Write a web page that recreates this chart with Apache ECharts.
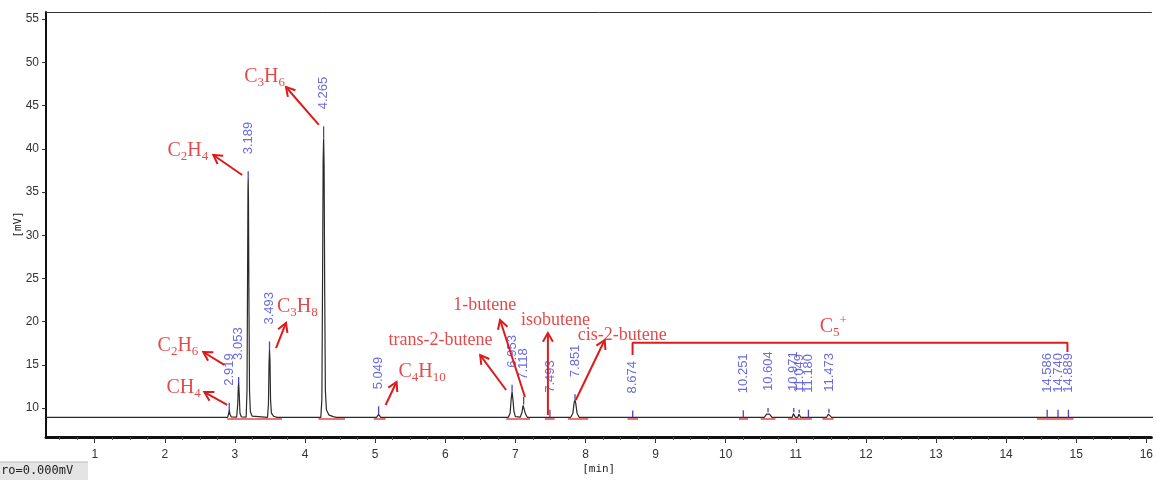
<!DOCTYPE html>
<html><head><meta charset="utf-8">
<script src="https://cdn.jsdelivr.net/npm/echarts@6/dist/echarts.min.js"></script>
<style>html,body{margin:0;padding:0;background:#fff}#c{width:1156px;height:480px}</style>
</head><body><div id="c"></div>
<script>
// ---------- data ----------
const BASE = 8.92;
const trace = [
 [0.30, 8.92],
 [2.895, 8.92],[2.910, 9.30],[2.919, 9.77],[2.928, 9.30],[2.945, 8.98],
 [3.025, 8.95],[3.040, 10.5],[3.048, 12.4],[3.053, 12.9],[3.060, 11.8],[3.072, 9.4],[3.090, 8.98],
 [3.160, 8.95],[3.172, 12.0],[3.180, 25.0],[3.186, 35.5],[3.189, 36.5],[3.193, 34.0],[3.200, 22.0],[3.208, 12.0],[3.220, 9.6],[3.245, 9.05],[3.270, 8.92],
 [3.465, 8.92],[3.478, 10.5],[3.486, 15.0],[3.493, 16.7],[3.500, 15.5],[3.508, 11.0],[3.520, 9.4],[3.550, 9.05],[3.600, 8.92],
 [4.225, 8.92],[4.240, 11.0],[4.250, 25.0],[4.258, 38.5],[4.265, 41.2],[4.272, 38.0],[4.280, 24.0],[4.290, 12.0],[4.305, 9.8],[4.340, 9.2],[4.400, 9.0],[4.450, 8.92],
 [5.020, 8.92],[5.040, 9.15],[5.049, 9.27],[5.060, 9.10],[5.080, 8.92],
 [6.900, 8.92],[6.925, 9.4],[6.940, 11.0],[6.953, 11.9],[6.965, 11.0],[6.980, 9.6],[7.000, 9.0],
 [7.070, 8.95],[7.095, 9.5],[7.110, 10.3],[7.118, 10.4],[7.128, 10.1],[7.145, 9.3],[7.170, 8.92],
 [7.790, 8.92],[7.820, 9.4],[7.838, 10.6],[7.851, 10.9],[7.862, 10.5],[7.880, 9.4],[7.910, 8.92],
 [10.550, 8.92],[10.585, 9.3],[10.604, 9.5],[10.625, 9.3],[10.660, 8.92],
 [10.950, 8.92],[10.965, 9.35],[10.971, 9.5],[10.980, 9.2],[10.995, 8.92],
 [11.030, 8.92],[11.043, 9.3],[11.049, 9.45],[11.058, 9.2],[11.070, 8.92],
 [11.440, 8.92],[11.465, 9.3],[11.473, 9.45],[11.485, 9.25],[11.510, 8.92],
 [16.10, 8.92]
];
const rtLabels = ['2.919','3.053','3.189','3.493','4.265','5.049','6.953','7.118','7.493','7.851','8.674','10.251','10.604','10.971','11.049','11.180','11.473','14.586','14.740','14.889'];
const rtTimes  = [2.919,3.053,3.189,3.493,4.265,5.049,6.953,7.118,7.493,7.851,8.674,10.251,10.604,10.971,11.049,11.180,11.473,14.586,14.740,14.889];
const markerLow  = [9.77,12.9,36.5,16.7,41.2,9.27,11.9,10.4,8.92,10.9,8.92,8.92,9.5,9.5,9.45,8.92,9.45,8.92,8.92,8.92];
const markerHigh = [10.6,13.6,37.4,17.7,42.6,10.2,12.7,11.3,9.8,11.6,9.7,9.75,10.0,10.0,9.8,9.8,9.9,9.8,9.8,9.8];
const integStart = [2.89,3.28,4.19,4.98,6.87,7.04,7.42,7.75,8.60,10.19,10.50,10.89,11.38,14.44];
const integEnd   = [3.28,3.67,4.57,5.15,7.04,7.21,7.56,8.04,8.75,10.32,10.71,11.23,11.54,14.96];
const xTickLabels = [1,2,3,4,5,6,7,8,9,10,11,12,13,14,15,16];
const yTickLabels = [10,15,20,25,30,35,40,45,50,55];
// annotations (data coordinates)
const arrowTail = [[2.890,10.35],[2.848,14.98],[3.103,36.97],[4.197,42.76],[3.586,16.94],[5.149,10.35],[6.868,12.08],[7.137,11.27],[7.464,9.19],[7.862,10.93]];
const arrowHead = [[2.564,11.85],[2.549,16.48],[2.691,39.28],[3.728,47.15],[3.728,19.84],[5.305,13.01],[6.498,16.13],[6.782,20.19],[7.464,18.68],[8.274,17.87]];
const annotText = ['{m|CH}{s|4}','{m|C}{s|2}{m|H}{s|6}','{m|C}{s|2}{m|H}{s|4}','{m|C}{s|3}{m|H}{s|6}','{m|C}{s|3}{m|H}{s|8}','{m|C}{s|4}{m|H}{s|10}','{n|trans-2-butene}','{n|1-butene}','{n|isobutene}','{n|cis-2-butene}','{m|C}{s|5}{p|+}'];
const annotPos = [[2.024,12.32],[1.896,17.18],[2.038,39.75],[3.132,48.31],[3.600,21.69],[5.333,14.17],[5.191,17.87],[6.115,21.92],[7.081,20.19],[7.890,18.45],[11.342,19.38]];
const bracketC5 = [[8.672,16.13],[8.672,17.56],[14.875,17.56],[14.875,16.48]];

// ---------- chart ----------
const RED = '#dc1c1c', BLUE = '#4343dc';
const X_MIN = 0.305, X_MAX = 16.072, Y_MIN = 6.644, Y_MAX = 55.83;
const xMinor = [];
for (let v = 0.5; v < 16.05; v += 0.25) { if (Math.abs(v - Math.round(v)) > 1e-6) xMinor.push(+v.toFixed(2)); }

const chart = echarts.init(document.getElementById('c'), null, {renderer:'canvas'});
const axisFont = 'Liberation Sans';
chart.setOption({
  animation: false,
  backgroundColor: '#fff',
  grid: {left: 46, right: 0, top: 12, bottom: 43},
  xAxis: [
    {type:'value', min:X_MIN, max:X_MAX, position:'bottom',
     axisLine:{show:true, onZero:false, lineStyle:{color:'#111', width:3}},
     axisTick:{show:true, length:6, customValues:xTickLabels, lineStyle:{color:'#333'}},
     axisLabel:{customValues:xTickLabels, color:'#333', fontSize:12, margin:12, fontFamily:axisFont},
     splitLine:{show:false},
     name:'[min]', nameLocation:'middle', nameGap:27, nameMoveOverlap:false,
     nameTextStyle:{fontFamily:'DejaVu Sans Mono', fontSize:11, color:'#222'}},
    {type:'value', min:X_MIN, max:X_MAX, position:'bottom',
     axisLine:{show:false, onZero:false},
     axisTick:{show:true, length:3, customValues:xMinor, lineStyle:{color:'#555'}},
     axisLabel:{show:false}, splitLine:{show:false}},
    {type:'value', min:X_MIN, max:X_MAX, position:'top',
     axisLine:{show:true, onZero:false, lineStyle:{color:'#333', width:1}},
     axisTick:{show:false}, axisLabel:{show:false}, splitLine:{show:false}}
  ],
  yAxis: {type:'value', min:Y_MIN, max:Y_MAX,
     axisLine:{show:true, onZero:false, lineStyle:{color:'#111', width:2}},
     axisTick:{show:true, length:4, customValues:yTickLabels, lineStyle:{color:'#333'}},
     axisLabel:{customValues:yTickLabels, color:'#333', fontSize:12, margin:7, fontFamily:axisFont},
     splitLine:{show:false},
     name:'[mV]', nameLocation:'middle', nameGap:22, nameRotate:90, nameMoveOverlap:false,
     nameTextStyle:{fontFamily:'DejaVu Sans Mono', fontSize:11, color:'#222'}},
  series: [
    {type:'lines', coordinateSystem:'cartesian2d', z:1, silent:true,
     lineStyle:{color:RED, width:1.6, opacity:0.8},
     data: integStart.map((s,i)=>({coords:[[s, BASE-0.14],[integEnd[i], BASE-0.14]]}))},
    {type:'line', data:trace, showSymbol:false, symbol:'none', z:2, silent:true,
     lineStyle:{color:'#2a2a2a', width:1.2}},
    {type:'custom', z:3, silent:true, clip:false,
     data: rtTimes.map((t,i)=>[t, markerLow[i], markerHigh[i]]),
     encode:{x:0, y:[1,2]},
     renderItem(params, api){
       const a = api.coord([api.value(0), api.value(1)]);
       const b = api.coord([api.value(0), api.value(2)]);
       return {type:'line', shape:{x1:a[0], y1:a[1], x2:b[0], y2:b[1]}, style:{stroke:BLUE, lineWidth:1.3}};
     }},
    {type:'scatter', symbolSize:0, z:4, silent:true, clip:false,
     data: rtTimes.map((t,i)=>[t, markerHigh[i]]),
     label:{show:true, position:'top', distance:17, rotate:90, align:'left', verticalAlign:'middle',
            formatter:p=>rtLabels[p.dataIndex], color:BLUE, fontSize:13, fontFamily:axisFont}},
    {type:'custom', z:5, silent:true, clip:false,
     data: arrowTail.map((p,i)=>[p[0], p[1], arrowHead[i][0], arrowHead[i][1]]),
     encode:{x:[0,2], y:[1,3]},
     renderItem(params, api){
       const p0 = api.coord([api.value(0), api.value(1)]);
       const p1 = api.coord([api.value(2), api.value(3)]);
       const ang = Math.atan2(p1[1]-p0[1], p1[0]-p0[0]);
       const L = 10, w = Math.PI/6;
       const h1 = [p1[0]-L*Math.cos(ang-w), p1[1]-L*Math.sin(ang-w)];
       const h2 = [p1[0]-L*Math.cos(ang+w), p1[1]-L*Math.sin(ang+w)];
       return {type:'group', children:[
         {type:'line', shape:{x1:p0[0], y1:p0[1], x2:p1[0], y2:p1[1]}, style:{stroke:RED, lineWidth:2}},
         {type:'polyline', shape:{points:[h1, p1, h2]}, style:{stroke:RED, lineWidth:2, fill:null}}
       ]};
     }},
    {type:'line', data:bracketC5, symbol:'none', z:5, silent:true,
     lineStyle:{color:RED, width:2}},
    {type:'scatter', symbolSize:0, z:6, silent:true, clip:false,
     data: annotPos.map((p,i)=>({value:p, name:annotText[i]})),
     label:{show:true, position:'right', distance:0, align:'left', verticalAlign:'middle',
       formatter:'{b}',
       rich:{
         m:{fontFamily:'Liberation Serif', fontSize:20, color:RED, lineHeight:24},
         s:{fontFamily:'Liberation Serif', fontSize:13, color:RED, padding:[12,0,0,0]},
         p:{fontFamily:'Liberation Serif', fontSize:13, color:RED, padding:[0,0,12,0]},
         n:{fontFamily:'Liberation Serif', fontSize:18, color:RED, lineHeight:22}
       }}}
  ],
  graphic: [
    {type:'rect', shape:{x:0, y:462, width:88, height:18}, style:{fill:'#e4e4e4'}},
    {type:'line', shape:{x1:0, y1:462, x2:88, y2:462}, style:{stroke:'#bbb', lineWidth:1}},
    {type:'text', x:1, y:471, style:{text:'ro=0.000mV', font:'12px "DejaVu Sans Mono"', fill:'#222', verticalAlign:'middle'}}
  ]
});
</script>
</body></html>
